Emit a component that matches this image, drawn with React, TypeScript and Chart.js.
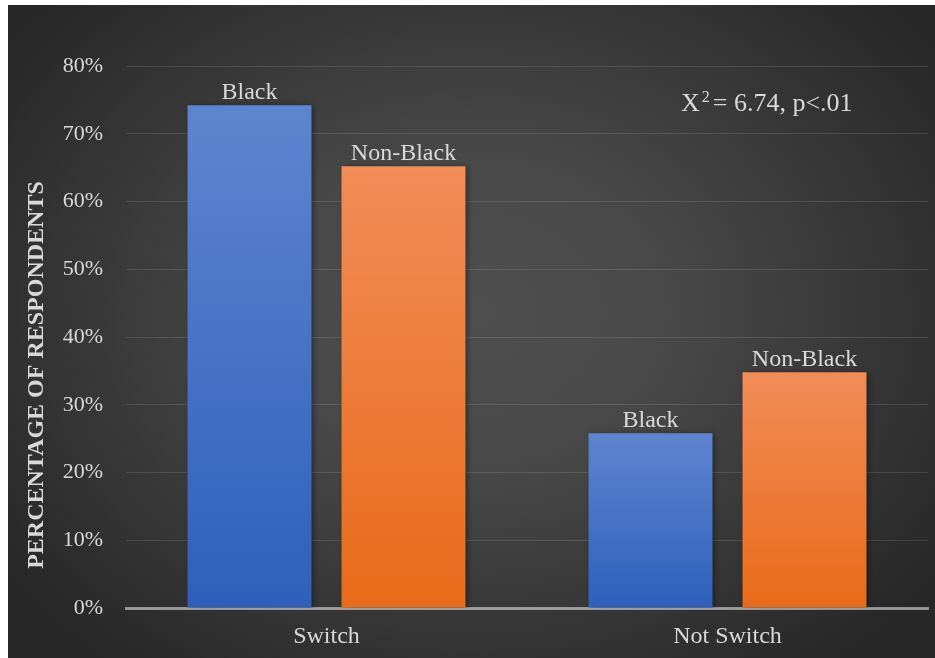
import React, { useEffect, useRef } from "react";
import { Chart, registerables } from "chart.js";

Chart.register(...registerables);

// Survey results: share of respondents who would / would not switch
const categories = ["Switch", "Not Switch"];
const seriesNames = ["Black", "Non-Black"];
const blackValues = [74.2, 25.8];
const nonBlackValues = [65.2, 34.8];
const yMax = 80;
const yStep = 10;
const axisTitle = "PERCENTAGE OF RESPONDENTS";
const statSymbol = "X";
const statSup = "2";
const statRest = "= 6.74, p<.01";

const SERIF = "'Liberation Serif', 'Times New Roman', serif";
const TEXT = "#d9d9d9";

const W = 927;
const H = 653;

const palettes = [
  { top: "rgb(94,133,207)", bottom: "rgb(46,96,187)" },
  { top: "rgb(242,140,88)", bottom: "rgb(232,107,25)" },
];

function barFill(idx: number) {
  return (c: any) => {
    const chart = c.chart;
    const y = chart.scales && chart.scales.y;
    const p = palettes[idx];
    if (!y || c.type !== "data") return p.top;
    const t = y.getPixelForValue(c.raw as number);
    const b = y.getPixelForValue(0);
    if (!isFinite(t) || !isFinite(b) || t === b) return p.top;
    const g = chart.ctx.createLinearGradient(0, t, 0, b);
    g.addColorStop(0, p.top);
    g.addColorStop(1, p.bottom);
    return g;
  };
}

const backdrop = {
  id: "backdrop",
  beforeDraw(chart: any) {
    const { ctx, width, height } = chart;
    ctx.save();
    ctx.fillStyle = "#282828";
    ctx.fillRect(0, 0, width, height);
    const cx = width * 0.5;
    const cy = height * 0.47;
    ctx.translate(cx, cy);
    ctx.scale(1, 0.78);
    const r = width * 0.62;
    const g = ctx.createRadialGradient(0, 0, 0, 0, 0, r);
    g.addColorStop(0, "#4f4f4f");
    g.addColorStop(0.35, "#484848");
    g.addColorStop(1, "#272727");
    ctx.fillStyle = g;
    ctx.fillRect(-cx, -cy / 0.78, width, height / 0.78);
    ctx.restore();
  },
};

const barDecor = {
  id: "barDecor",
  beforeDatasetsDraw(chart: any) {
    const ctx = chart.ctx;
    ctx.save();
    ctx.shadowColor = "rgba(0,0,0,0.45)";
    ctx.shadowBlur = 6;
    ctx.shadowOffsetX = 2;
    ctx.shadowOffsetY = 1;
  },
  afterDatasetsDraw(chart: any) {
    const ctx = chart.ctx;
    ctx.restore();
    ctx.save();
    ctx.font = `24px ${SERIF}`;
    ctx.fillStyle = TEXT;
    ctx.textAlign = "center";
    ctx.textBaseline = "alphabetic";
    chart.data.datasets.forEach((ds: any, i: number) => {
      const meta = chart.getDatasetMeta(i);
      meta.data.forEach((bar: any) => {
        ctx.fillText(ds.label, bar.x, bar.y - 6);
      });
    });
    ctx.restore();
  },
};

const extraText = {
  id: "extraText",
  afterDraw(chart: any) {
    const ctx = chart.ctx;
    ctx.save();
    ctx.fillStyle = TEXT;

    // rotated axis title
    ctx.save();
    ctx.translate(29, 370);
    ctx.rotate(-Math.PI / 2);
    ctx.font = `bold 24px ${SERIF}`;
    ctx.textAlign = "center";
    ctx.textBaseline = "middle";
    ctx.fillText(axisTitle, 0, 0);
    ctx.restore();

    // chi-square annotation
    ctx.textAlign = "left";
    ctx.textBaseline = "alphabetic";
    let x = 673;
    const base = 106;
    ctx.font = `26px ${SERIF}`;
    ctx.fillText(statSymbol, x, base);
    x += ctx.measureText(statSymbol).width + 2;
    ctx.font = `16px ${SERIF}`;
    ctx.fillText(statSup, x, base - 9);
    x += ctx.measureText(statSup).width + 3;
    ctx.font = `26px ${SERIF}`;
    ctx.fillText(statRest, x, base);
    ctx.restore();
  },
};

export default function App() {
  const ref = useRef<HTMLCanvasElement | null>(null);

  useEffect(() => {
    if (!ref.current) return;
    const chart = new Chart(ref.current, {
      type: "bar",
      data: {
        labels: categories,
        datasets: [
          {
            label: seriesNames[0],
            data: blackValues,
            backgroundColor: barFill(0),
            borderWidth: 0,
            categoryPercentage: 0.768,
            barPercentage: 0.805,
          },
          {
            label: seriesNames[1],
            data: nonBlackValues,
            backgroundColor: barFill(1),
            borderWidth: 0,
            categoryPercentage: 0.768,
            barPercentage: 0.805,
          },
        ],
      },
      options: {
        responsive: false,
        animation: false,
        devicePixelRatio: 1,
        layout: { padding: { top: 61, right: 7, bottom: 0, left: 0 } },
        plugins: {
          legend: { display: false },
          tooltip: { enabled: false },
          title: { display: false },
        },
        scales: {
          x: {
            z: 1,
            grid: { display: false, drawTicks: false },
            border: { display: true, color: "rgba(217,217,217,0.6)", width: 3 },
            ticks: {
              color: TEXT,
              font: { family: SERIF, size: 24 },
              padding: 14,
            },
            afterFit(s: any) {
              s.height = 50;
            },
          },
          y: {
            min: 0,
            max: yMax,
            grid: { color: "rgba(255,255,255,0.12)", lineWidth: 1, drawTicks: false },
            border: { display: false },
            ticks: {
              stepSize: yStep,
              color: TEXT,
              font: { family: SERIF, size: 22 },
              padding: 23,
              callback: (v: any) => `${v}%`,
            },
            afterFit(s: any) {
              s.width = 118;
            },
          },
        },
      },
      plugins: [backdrop, barDecor, extraText],
    });
    return () => chart.destroy();
  }, []);

  return (
    <div style={{ position: "absolute", left: 8, top: 5, width: W, height: H }}>
      <canvas ref={ref} width={W} height={H} style={{ display: "block", width: W, height: H }} />
    </div>
  );
}
